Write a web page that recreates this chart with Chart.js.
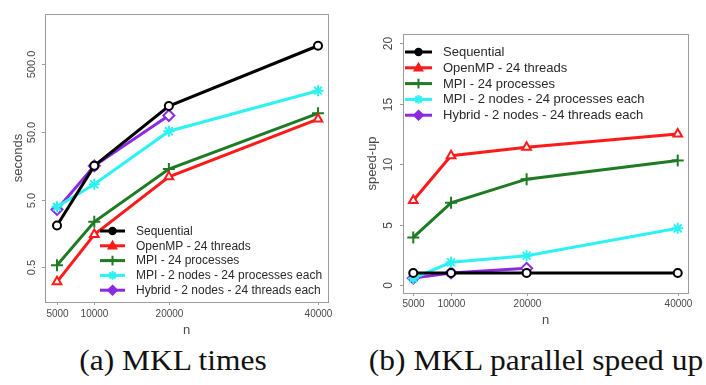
<!DOCTYPE html>
<html>
<head>
<meta charset="utf-8">
<script src="https://cdn.jsdelivr.net/npm/chart.js@4.4.1/dist/chart.umd.min.js"></script>
<style>
  html, body { margin: 0; padding: 0; background: #fff; }
  body { width: 706px; height: 385px; position: relative; overflow: hidden; }
  canvas { position: absolute; top: 0; }
  #cA { left: 0; }
  #cB { left: 353px; }
  .cap { position: absolute; top: 344px; font-family: "Liberation Serif", "DejaVu Serif", serif; font-size: 29px; color: #111; white-space: nowrap; transform: translateX(-50%) scaleX(1.085); transform-origin: 50% 50%; }
</style>
</head>
<body>
<canvas id="cA" width="353" height="340"></canvas>
<canvas id="cB" width="353" height="340"></canvas>
<div class="cap" style="left:173px">(a) MKL times</div>
<div class="cap" style="left:536px">(b) MKL parallel speed up</div>
<script>
// ---- data ----
const nValues = [5000, 10000, 20000, 40000];
const seriesLabels = [
  'Sequential',
  'OpenMP - 24 threads',
  'MPI - 24 processes',
  'MPI - 2 nodes - 24 processes each',
  'Hybrid - 2 nodes - 24 threads each'
];
// (a) times in seconds
const timeSequential = [2.07, 15.7, 120, 931];
const timeOpenMP     = [0.305, 1.52, 10.8, 77];
const timeMPI24      = [0.537, 2.34, 14.1, 93.5];
const timeMPI2Nodes  = [3.9, 8.4, 51, 202];
const timeHybrid     = [3.57, 15.7, 87];
// (b) speed-up
const speedSequential = [1, 1, 1, 1];
const speedOpenMP     = [7.0, 10.7, 11.4, 12.5];
const speedMPI24      = [3.94, 6.8, 8.76, 10.3];
const speedMPI2Nodes  = [0.55, 1.88, 2.42, 4.69];
const speedHybrid     = [0.57, 1.0, 1.38];
// tick labels
const xTickValues = [5000, 10000, 20000, 40000];
const xTickLabels = ['5000', '10000', '20000', '40000'];
const timeTickValues = [0.5, 5, 50, 500];
const timeTickLabels = ['0.5', '5.0', '50.0', '500.0'];
const speedTickValues = [0, 5, 10, 15, 20];
const speedTickLabels = ['0', '5', '10', '15', '20'];

// ---- styles ----
const colors = ['#000000', '#ff1a1a', '#1e7b24', '#2ef2f2', '#8a2be2'];
const styles = ['circle', 'triangle', 'cross', 'star', 'rectRot'];
const radii  = [4, 5, 6, 5.5, 5.5];

function pts(arr) { return arr.map((v, i) => ({ x: nValues[i], y: v })); }

function makeDatasets(seriesArr) {
  return seriesArr.map((s, i) => ({
    label: seriesLabels[i],
    data: pts(s),
    borderColor: colors[i],
    backgroundColor: '#ffffff',
    pointBorderColor: colors[i],
    pointBackgroundColor: '#ffffff',
    borderWidth: 3,
    pointStyle: styles[i],
    pointRadius: radii[i],
    pointBorderWidth: 2,
    tension: 0,
    clip: false
  }));
}

function drawMarker(ctx, style, x, y, r) {
  ctx.beginPath();
  if (style === 'circle') {
    ctx.arc(x, y, r, 0, Math.PI * 2);
    ctx.fill(); ctx.stroke();
  } else if (style === 'triangle') {
    ctx.moveTo(x, y - r); ctx.lineTo(x + r * 0.95, y + r * 0.7); ctx.lineTo(x - r * 0.95, y + r * 0.7); ctx.closePath();
    ctx.fill(); ctx.stroke();
  } else if (style === 'cross') {
    ctx.moveTo(x - r, y); ctx.lineTo(x + r, y); ctx.moveTo(x, y - r); ctx.lineTo(x, y + r); ctx.stroke();
  } else if (style === 'star') {
    ctx.moveTo(x - r, y); ctx.lineTo(x + r, y); ctx.moveTo(x, y - r); ctx.lineTo(x, y + r);
    const d = r * 0.7;
    ctx.moveTo(x - d, y - d); ctx.lineTo(x + d, y + d); ctx.moveTo(x - d, y + d); ctx.lineTo(x + d, y - d); ctx.stroke();
  } else if (style === 'rectRot') {
    ctx.moveTo(x, y - r); ctx.lineTo(x + r, y); ctx.lineTo(x, y + r); ctx.lineTo(x - r, y); ctx.closePath();
    ctx.fill(); ctx.stroke();
  }
}

const rStyle = {
  id: 'rStyle',
  afterDraw(chart, args, o) {
    const ctx = chart.ctx, a = chart.chartArea, xs = chart.scales.x, ys = chart.scales.y;
    ctx.save();
    // frame
    ctx.strokeStyle = '#9c9c9c'; ctx.lineWidth = 1;
    ctx.strokeRect(Math.round(a.left) + 0.5, Math.round(a.top) + 0.5, Math.round(a.right - a.left), Math.round(a.bottom - a.top));
    ctx.fillStyle = '#4a4a4a';
    // x ticks
    ctx.font = o.xFont; ctx.textAlign = 'center'; ctx.textBaseline = 'middle';
    o.xTicks.forEach((v, i) => {
      const px = Math.round(xs.getPixelForValue(v)) + 0.5;
      ctx.beginPath(); ctx.moveTo(px, a.bottom); ctx.lineTo(px, a.bottom + 3); ctx.stroke();
      ctx.fillText(o.xLabels[i], px, a.bottom + o.xLabOff);
    });
    // y ticks (rotated labels)
    ctx.font = o.yFont;
    o.yTicks.forEach((v, i) => {
      const py = Math.round(ys.getPixelForValue(v)) + 0.5;
      ctx.beginPath(); ctx.moveTo(a.left - 3, py); ctx.lineTo(a.left, py); ctx.stroke();
      ctx.save(); ctx.translate(a.left - o.yLabOff, py); ctx.rotate(-Math.PI / 2);
      ctx.fillText(o.yLabels[i], 0, 0); ctx.restore();
    });
    // axis titles
    ctx.font = o.titleFont;
    ctx.fillText(o.xTitle, (a.left + a.right) / 2, o.xTitleY);
    ctx.save(); ctx.translate(o.yTitleX, (a.top + a.bottom) / 2); ctx.rotate(-Math.PI / 2);
    ctx.fillText(o.yTitle, 0, 0); ctx.restore();
    // legend
    const L = o.legend;
    ctx.font = L.font; ctx.textAlign = 'left';
    chart.data.datasets.forEach((ds, i) => {
      const y = L.y0 + i * L.dy;
      ctx.strokeStyle = ds.borderColor; ctx.lineWidth = 3;
      ctx.beginPath(); ctx.moveTo(L.x0, y); ctx.lineTo(L.x1, y); ctx.stroke();
      ctx.fillStyle = ds.borderColor; ctx.lineWidth = 2;
      drawMarker(ctx, ds.pointStyle, (L.x0 + L.x1) / 2, y, ds.pointRadius * 0.8);
      ctx.fillStyle = '#2a2a2a';
      ctx.fillText(ds.label, L.tx, y + 0.5);
    });
    ctx.restore();
  }
};

function makeChart(id, datasets, xScale, yScale, padding, opts) {
  return new Chart(document.getElementById(id), {
    type: 'line',
    data: { datasets },
    options: {
      responsive: false,
      animation: false,
      devicePixelRatio: 1,
      layout: { padding },
      scales: {
        x: Object.assign({ type: 'linear', display: false }, xScale),
        y: Object.assign({ display: false }, yScale)
      },
      plugins: { legend: { display: false }, tooltip: { enabled: false }, rStyle: opts }
    },
    plugins: [rStyle]
  });
}

makeChart('cA',
  makeDatasets([timeSequential, timeOpenMP, timeMPI24, timeMPI2Nodes, timeHybrid]),
  { min: 3390, max: 41340 },
  { type: 'logarithmic', min: 0.1536, max: 2739 },
  { left: 45, top: 14, right: 25, bottom: 38 },
  {
    xTicks: xTickValues, xLabels: xTickLabels, xFont: '10px "Liberation Sans", Arial, sans-serif', xLabOff: 12,
    yTicks: timeTickValues, yLabels: timeTickLabels, yFont: '11px "Liberation Sans", Arial, sans-serif', yLabOff: 13,
    titleFont: '13px "Liberation Sans", Arial, sans-serif', xTitle: 'n', xTitleY: 330, yTitle: 'seconds', yTitleX: 18,
    legend: { x0: 100, x1: 125, tx: 136, y0: 231, dy: 14.8, font: '12px "Liberation Sans", Arial, sans-serif' }
  }
);

makeChart('cB',
  makeDatasets([speedSequential, speedOpenMP, speedMPI24, speedMPI2Nodes, speedHybrid]),
  { min: 3640, max: 41360 },
  { type: 'linear', min: -0.66, max: 20.77 },
  { left: 50, top: 34, right: 18, bottom: 47 },
  {
    xTicks: xTickValues, xLabels: xTickLabels, xFont: '10px "Liberation Sans", Arial, sans-serif', xLabOff: 11,
    yTicks: speedTickValues, yLabels: speedTickLabels, yFont: '12px "Liberation Sans", Arial, sans-serif', yLabOff: 14,
    titleFont: '13px "Liberation Sans", Arial, sans-serif', xTitle: 'n', xTitleY: 320, yTitle: 'speed-up', yTitleX: 19,
    legend: { x0: 52, x1: 79, tx: 90, y0: 52, dy: 15.8, font: '13px "Liberation Sans", Arial, sans-serif' }
  }
);
</script>
</body>
</html>
